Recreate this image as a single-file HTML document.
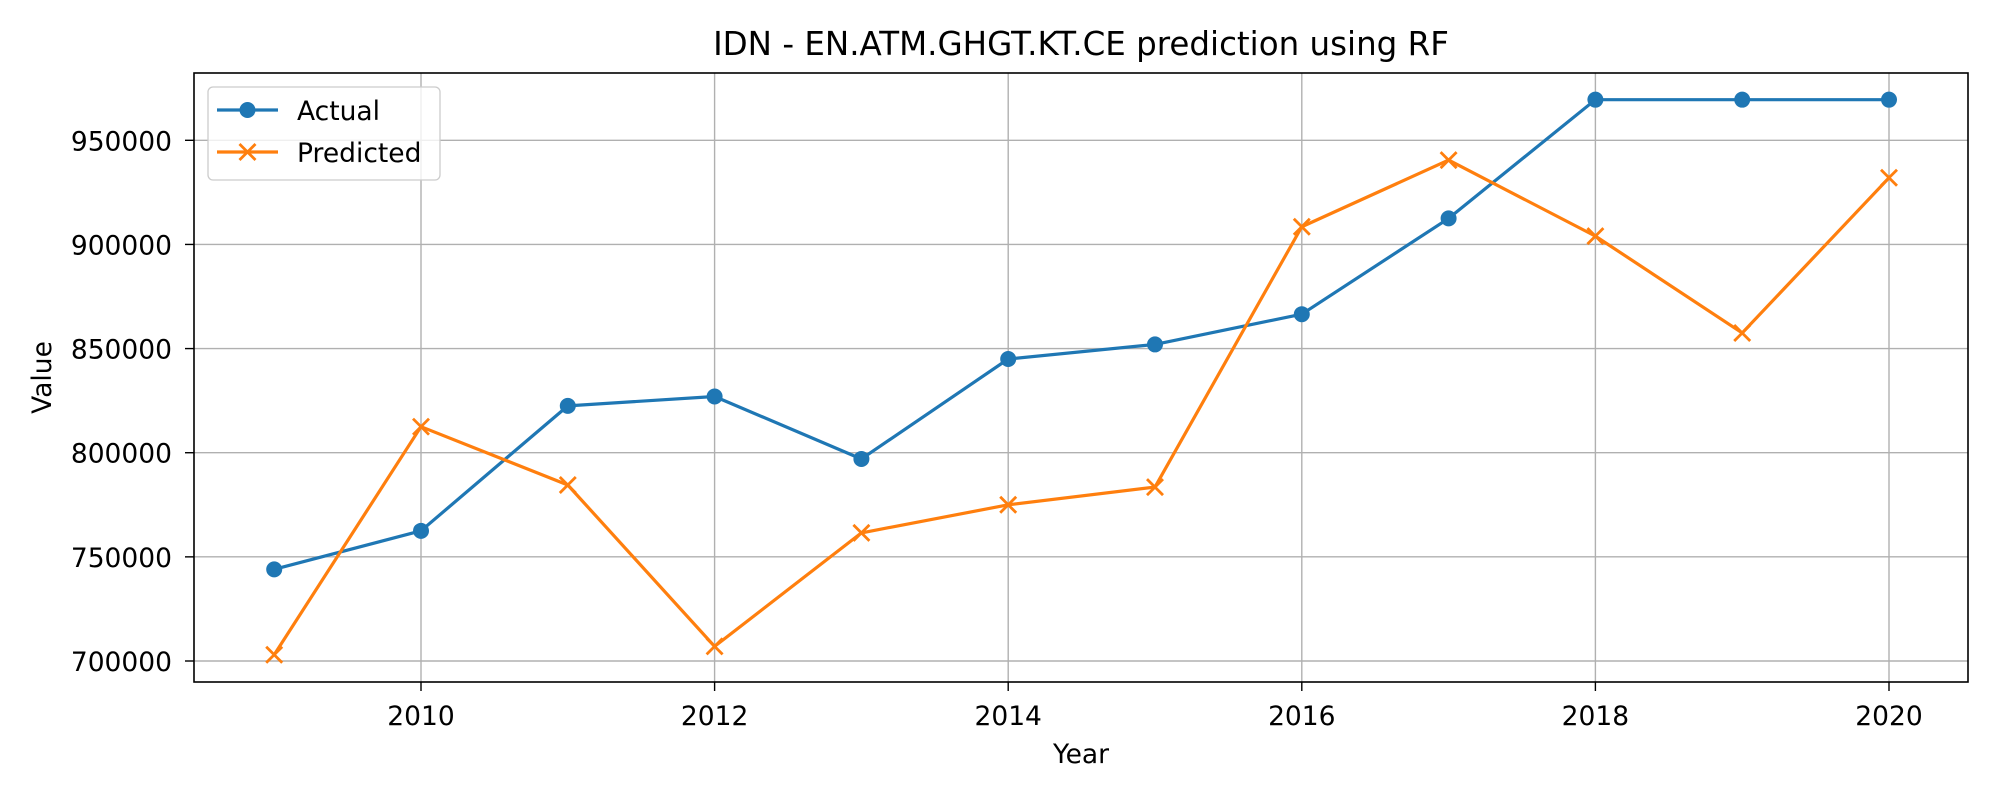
<!DOCTYPE html>
<html><head><meta charset="utf-8"><style>
html,body{margin:0;padding:0;background:#fff;}
svg{display:block;font-family:"DejaVu Sans","Liberation Sans",sans-serif;}
</style></head><body>
<svg id="chart" width="2000" height="800" viewBox="0 0 2000 800"></svg>
<script>
const years = [2009,2010,2011,2012,2013,2014,2015,2016,2017,2018,2019,2020];
const actual = [744000,762500,822500,827000,797000,845000,852000,866500,912500,969500,969500,969500];
const predicted = [703000,812500,784500,707000,761500,775000,783500,908500,940500,904000,857500,932000];
const xTicks = [2010,2012,2014,2016,2018,2020];
const yTicks = [700000,750000,800000,850000,900000,950000];

const L=194,R=1968,T=73,B=682;
function xs(v){return 421+(v-2010)*146.8;}
function ys(v){return 661-(v-700000)*(520.7/250000);}
const NS="http://www.w3.org/2000/svg";
const svg=document.getElementById('chart');
function mk(tag,attrs,parent){const e=document.createElementNS(NS,tag);for(const k in attrs)e.setAttribute(k,attrs[k]);(parent||svg).appendChild(e);return e;}

mk('rect',{x:0,y:0,width:2000,height:800,fill:'#fff'});
const grid=mk('g',{});


xTicks.forEach(t=>{
  mk('line',{x1:xs(t),x2:xs(t),y1:T,y2:B,stroke:'#b0b0b0','stroke-width':1.4},grid);
  mk('line',{x1:xs(t),x2:xs(t),y1:B,y2:B+9,stroke:'#000','stroke-width':1.4});
  const tx=mk('text',{x:xs(t),y:B+43,'text-anchor':'middle','font-size':26.5,fill:'#000'});
  tx.textContent=t;
  
  
});
yTicks.forEach(t=>{
  mk('line',{x1:L,x2:R,y1:ys(t),y2:ys(t),stroke:'#b0b0b0','stroke-width':1.4},grid);
  mk('line',{x1:L-9,x2:L,y1:ys(t),y2:ys(t),stroke:'#000','stroke-width':1.4});
  const tx=mk('text',{x:L-22,y:ys(t)+10,'text-anchor':'end','font-size':26.5,fill:'#000'});
  tx.textContent=t;
  
  
});

function series(vals,color,marker,name){
  const g=mk('g',{});
  
  
  mk('polyline',{points:vals.map((v,i)=>xs(years[i])+','+ys(v)).join(' '),fill:'none',stroke:color,'stroke-width':3.2,'stroke-linejoin':'round'},g);
  vals.forEach((v,i)=>{
    const x=xs(years[i]),y=ys(v);
    let m;
    if(marker==='o') m=mk('circle',{cx:x,cy:y,r:8,fill:color},g);
    else m=mk('path',{d:`M${x-8},${y-8}L${x+8},${y+8}M${x-8},${y+8}L${x+8},${y-8}`,stroke:color,'stroke-width':2.8},g);
    
    
  });
}
series(actual,'#1f77b4','o','actual-series');
series(predicted,'#ff7f0e','x','predicted-series');

const frame=mk('rect',{x:L,y:T,width:R-L,height:B-T,fill:'none',stroke:'#000','stroke-width':1.6});



const title=mk('text',{x:(L+R)/2,y:55,'text-anchor':'middle','font-size':32.5,fill:'#000'});
title.textContent='IDN - EN.ATM.GHGT.KT.CE prediction using RF';


const xt=mk('text',{x:(L+R)/2,y:763,'text-anchor':'middle','font-size':26.5,fill:'#000'});
xt.textContent='Year';


const yt=mk('text',{x:51,y:(T+B)/2,'text-anchor':'middle','font-size':26.5,fill:'#000',transform:`rotate(-90 51 ${(T+B)/2})`});
yt.textContent='Value';



const lg=mk('g',{});


mk('rect',{x:208,y:87,width:232,height:93,rx:5,fill:'#fff','fill-opacity':0.8,stroke:'#ccc','stroke-width':1.3},lg);
mk('line',{x1:217,x2:278,y1:110,y2:110,stroke:'#1f77b4','stroke-width':3.2},lg);
mk('circle',{cx:247.5,cy:110,r:8,fill:'#1f77b4'},lg);
const l1=mk('text',{x:297,y:120,'font-size':26.5,fill:'#000'},lg);
l1.textContent='Actual';


mk('line',{x1:217,x2:278,y1:152,y2:152,stroke:'#ff7f0e','stroke-width':3.2},lg);
mk('path',{d:'M239.5,144L255.5,160M239.5,160L255.5,144',stroke:'#ff7f0e','stroke-width':2.8},lg);
const l2=mk('text',{x:297,y:162,'font-size':26.5,fill:'#000'},lg);
l2.textContent='Predicted';


</script>
</body></html>
